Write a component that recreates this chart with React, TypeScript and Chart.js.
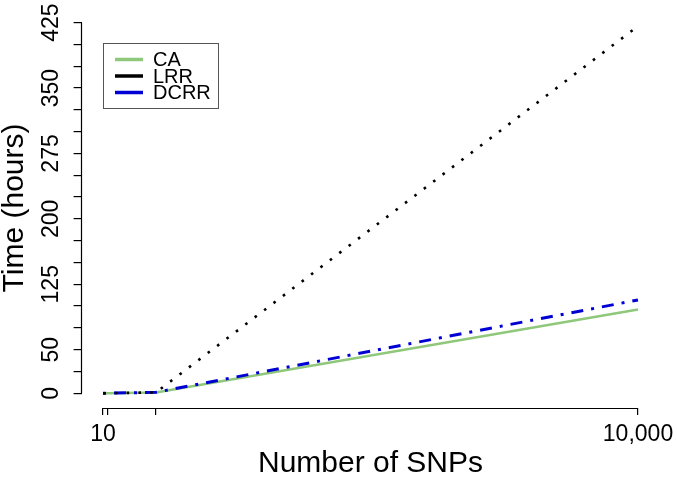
import React, { useEffect, useRef } from "react";
import { Chart, registerables } from "chart.js";

Chart.register(...registerables);

const snps = [10, 100, 1000, 10000];
const caHours = [0.01, 0.1, 1.0, 96];
const lrrHours = [0.01, 0.1, 1.0, 421];
const dcrrHours = [0.01, 0.1, 1.1, 107];

const seriesLabels = ["CA", "LRR", "DCRR"];
const seriesColors = ["#8fc87b", "#000000", "#0000d4"];

const xTicks = [10, 100, 1000, 10000];
const xTickLabels: Record<number, string> = { 10: "10", 10000: "10,000" };
const yTicks = [0, 25, 50, 75, 100, 125, 150, 175, 200, 225, 250, 275, 300, 325, 350, 375, 400, 425];
const yTickLabels = [0, 50, 125, 200, 275, 350, 425];

const FONT = "'Liberation Sans', Arial, Helvetica, sans-serif";

const axisLinesPlugin = {
  id: "rAxisLines",
  afterDraw(chart: any) {
    const ctx = chart.ctx;
    const xs = chart.scales.x;
    const ys = chart.scales.y;
    ctx.save();
    ctx.strokeStyle = "#000";
    ctx.lineWidth = 1.2;
    ctx.beginPath();
    const yAxisY = Math.round(xs.top) + 0.5;
    ctx.moveTo(xs.getPixelForValue(xTicks[0]), yAxisY);
    ctx.lineTo(xs.getPixelForValue(xTicks[xTicks.length - 1]), yAxisY);
    const xAxisX = Math.round(ys.right) - 0.5;
    ctx.moveTo(xAxisX, ys.getPixelForValue(yTicks[0]));
    ctx.lineTo(xAxisX, ys.getPixelForValue(yTicks[yTicks.length - 1]));
    ctx.stroke();

    // legend
    const bx = 103.5, by = 43.5, bw = 115, bh = 65;
    ctx.strokeStyle = "#555";
    ctx.lineWidth = 1;
    ctx.strokeRect(bx, by, bw, bh);
    const rows = [59.5, 76, 92.5];
    ctx.font = `20px ${FONT}`;
    ctx.textBaseline = "middle";
    ctx.textAlign = "left";
    chart.data.datasets.forEach((ds: any, i: number) => {
      ctx.strokeStyle = ds.borderColor;
      ctx.lineWidth = 3.5;
      ctx.setLineDash([]);
      ctx.beginPath();
      ctx.moveTo(115, rows[i]);
      ctx.lineTo(143, rows[i]);
      ctx.stroke();
      ctx.fillStyle = "#000";
      ctx.fillText(ds.label, 153, rows[i] + 1);
    });
    ctx.restore();
  },
};

export default function App() {
  const ref = useRef<HTMLCanvasElement | null>(null);
  useEffect(() => {
    document.body.style.margin = "0";
    const canvas = ref.current!;
    const xmin = xTicks[0] - 0.04 * (xTicks[3] - xTicks[0]);
    const xmax = xTicks[3] + 0.04 * (xTicks[3] - xTicks[0]);
    const ymin = -0.04 * 425;
    const ymax = 425 + 0.04 * 425;
    const chart = new Chart(canvas, {
      type: "line",
      data: {
        labels: snps,
        datasets: [
          {
            label: seriesLabels[0],
            data: snps.map((x, i) => ({ x, y: caHours[i] })),
            borderColor: seriesColors[0],
            borderWidth: 2.5,
            pointRadius: 0,
            tension: 0,
            order: 3,
          },
          {
            label: seriesLabels[1],
            data: snps.map((x, i) => ({ x, y: lrrHours[i] })),
            borderColor: seriesColors[1],
            borderWidth: 2.6,
            borderDash: [2.6, 9.2],
            pointRadius: 0,
            tension: 0,
            order: 1,
          },
          {
            label: seriesLabels[2],
            data: snps.map((x, i) => ({ x, y: dcrrHours[i] })),
            borderColor: seriesColors[2],
            borderWidth: 3,
            borderDash: [3, 8, 12, 8],
            pointRadius: 0,
            tension: 0,
            order: 2,
          },
        ],
      },
      options: {
        responsive: false,
        animation: false,
        devicePixelRatio: 1,
        layout: { padding: { top: 7.8, right: 17.6, left: 0, bottom: 0 } },
        plugins: { legend: { display: false }, tooltip: { enabled: false } },
        scales: {
          x: {
            type: "linear",
            min: xmin,
            max: xmax,
            afterBuildTicks: (s: any) => {
              s.ticks = xTicks.map((v) => ({ value: v }));
            },
            afterFit: (s: any) => {
              s.height = 72.9;
              s.paddingLeft = 0;
              s.paddingRight = 0;
            },
            border: { display: false },
            grid: {
              display: true,
              drawOnChartArea: false,
              drawTicks: true,
              tickLength: 7,
              color: "#000",
              lineWidth: 1.2,
            },
            ticks: {
              autoSkip: false,
              maxRotation: 0,
              minRotation: 0,
              padding: 6,
              color: "#000",
              font: { family: FONT, size: 23 },
              callback: (v: any) => xTickLabels[v as number] ?? "",
            },
            title: {
              display: true,
              text: "Number of SNPs",
              color: "#000",
              font: { family: FONT, size: 30, lineHeight: 1 },
              padding: { top: 0, bottom: 2 },
            },
          },
          y: {
            type: "linear",
            min: ymin,
            max: ymax,
            afterBuildTicks: (s: any) => {
              s.ticks = yTicks.map((v) => ({ value: v }));
            },
            afterFit: (s: any) => {
              s.width = 81.6;
              s.paddingTop = 0;
              s.paddingBottom = 0;
            },
            border: { display: false },
            grid: {
              display: true,
              drawOnChartArea: false,
              drawTicks: true,
              tickLength: 8,
              color: "#000",
              lineWidth: 1.2,
            },
            ticks: {
              autoSkip: false,
              minRotation: 90,
              maxRotation: 90,
              crossAlign: "center",
              padding: 3,
              color: "#000",
              font: { family: FONT, size: 23 },
              callback: (v: any) => (yTickLabels.includes(v as number) ? String(v) : ""),
            },
            title: {
              display: true,
              text: "Time (hours)",
              color: "#000",
              font: { family: FONT, size: 30, lineHeight: 1 },
              padding: { top: 0, bottom: 0 },
            },
          },
        },
      },
      plugins: [axisLinesPlugin],
    } as any);
    return () => chart.destroy();
  }, []);
  return (
    <div style={{ position: "absolute", left: 0, top: 0, width: 677, height: 481, background: "#fff" }}>
      <canvas ref={ref} width={677} height={481} />
    </div>
  );
}
